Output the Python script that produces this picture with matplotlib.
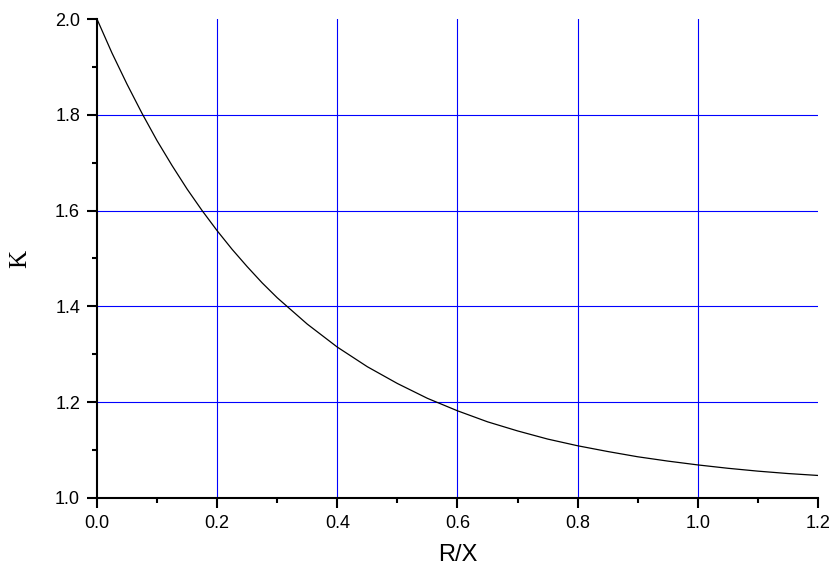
import matplotlib
matplotlib.use('Agg')
import matplotlib.pyplot as plt
from matplotlib.ticker import MultipleLocator

# values
rx = [0.0, 0.025, 0.05, 0.075, 0.1, 0.125, 0.15, 0.175, 0.2, 0.225, 0.25, 0.275,
      0.3, 0.35, 0.4, 0.45, 0.5, 0.55, 0.6, 0.65, 0.7, 0.75, 0.8, 0.85, 0.9,
      0.95, 1.0, 1.05, 1.1, 1.15, 1.2]
k = [2.000, 1.929, 1.864, 1.803, 1.746, 1.694, 1.645, 1.600, 1.558, 1.519,
     1.483, 1.449, 1.418, 1.363, 1.315, 1.274, 1.239, 1.208, 1.182, 1.159,
     1.140, 1.123, 1.109, 1.097, 1.086, 1.077, 1.069, 1.062, 1.056, 1.051, 1.047]

xticks = [0.0, 0.2, 0.4, 0.6, 0.8, 1.0, 1.2]
yticks = [1.0, 1.2, 1.4, 1.6, 1.8, 2.0]

plt.rcParams['font.family'] = ['Liberation Sans', 'DejaVu Sans']

fig = plt.figure(figsize=(8.33, 5.71), dpi=100)
ax = fig.add_axes([0.1164, 0.1279, 0.8656, 0.8388])

for v in xticks[1:-1]:
    ax.axvline(v, color='#0000ff', lw=0.8, zorder=1)
for v in yticks[1:-1]:
    ax.axhline(v, color='#0000ff', lw=0.8, zorder=1)

ax.plot(rx, k, color='black', lw=0.9, zorder=3)

ax.set_xlim(0, 1.2)
ax.set_ylim(1.0, 2.0)
ax.set_xticks(xticks)
ax.set_yticks(yticks)
ax.set_xticklabels(['%.1f' % v for v in xticks])
ax.set_yticklabels(['%.1f' % v for v in yticks])
ax.xaxis.set_minor_locator(MultipleLocator(0.1))
ax.yaxis.set_minor_locator(MultipleLocator(0.1))

ax.spines['top'].set_visible(False)
ax.spines['right'].set_visible(False)
ax.spines['left'].set_linewidth(1.5)
ax.spines['bottom'].set_linewidth(1.5)
ax.tick_params(which='major', direction='out', length=7.2, width=1.5, labelsize=13, pad=5)
ax.tick_params(which='minor', direction='out', length=3.6, width=1.5)

ax.set_xlabel('R/X', fontsize=17, labelpad=9)
ax.set_ylabel('K', fontsize=18, family=['Liberation Serif'], labelpad=17)

fig.savefig('out.png', dpi=100)
